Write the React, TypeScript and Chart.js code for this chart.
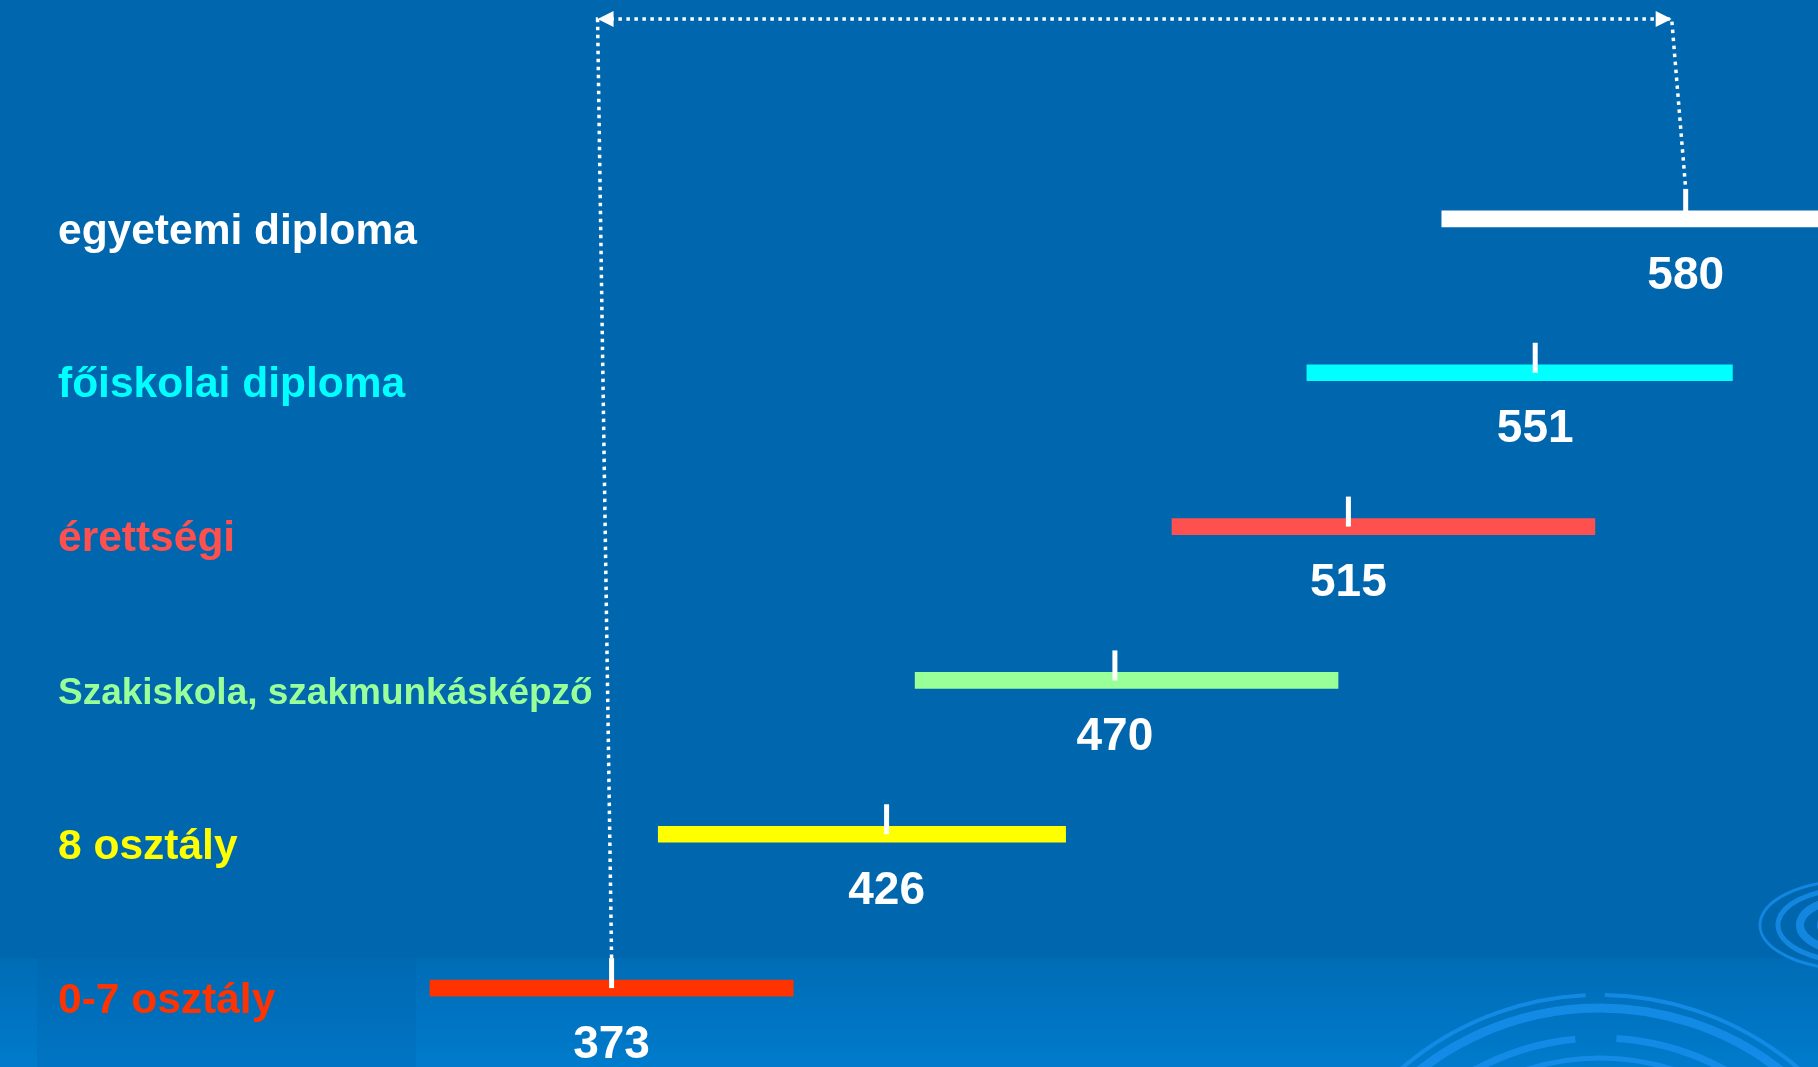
import React, { useEffect, useRef } from "react";
import { Chart, registerables } from "chart.js";

Chart.register(...registerables);

// ---- data ----
const categories = [
  "egyetemi diploma",
  "főiskolai diploma",
  "érettségi",
  "Szakiskola, szakmunkásképző",
  "8 osztály",
  "0-7 osztály",
];
const meanScores = [580, 551, 515, 470, 426, 373];
const rangeLow = [533, 507, 481, 431.5, 382, 338];
const rangeHigh = [612, 589, 562.5, 513, 460.5, 408];
const barColors = ["#FFFFFF", "#00FFFF", "#FF5050", "#99FF99", "#FFFF00", "#FF3300"];
const labelColors = ["#FFFFFF", "#00FFFF", "#FF5050", "#99FF99", "#FFFF00", "#FF3300"];

const FONT = '"Liberation Sans", Arial, Helvetica, sans-serif';
const AXIS_WIDTH = 560;
const LABEL_LEFT = 58;

const bgPlugin = {
  id: "bgPlugin",
  beforeDraw(chart: any) {
    const { ctx, width, height } = chart;
    ctx.save();
    ctx.fillStyle = "#0067AF";
    ctx.fillRect(0, 0, width, height);
    const g = ctx.createLinearGradient(0, 958, 0, height);
    g.addColorStop(0, "#006CB6");
    g.addColorStop(1, "#007BCB");
    ctx.fillStyle = g;
    ctx.fillRect(0, 958, width, height - 958);
    const g2 = ctx.createLinearGradient(0, 958, 0, height);
    g2.addColorStop(0, "#0069B2");
    g2.addColorStop(1, "#0074C3");
    ctx.fillStyle = g2;
    ctx.fillRect(37, 958, 379, height - 958);

    // ripples (decoration)
    ctx.strokeStyle = "rgba(25,145,240,0.75)";
    ctx.lineCap = "butt";
    const cx = 1600, cy = 1300;
    const arcs: [number, number, number, number][] = [
      [305, 4, 1.1 * Math.PI, 1.485 * Math.PI],
      [305, 4, 1.505 * Math.PI, 1.9 * Math.PI],
      [292, 9, 1.1 * Math.PI, 1.9 * Math.PI],
      [262, 7, 1.2 * Math.PI, 1.47 * Math.PI],
      [262, 7, 1.52 * Math.PI, 1.8 * Math.PI],
      [242, 5, 1.25 * Math.PI, 1.75 * Math.PI],
    ];
    arcs.forEach(([r, w, a0, a1]) => {
      ctx.lineWidth = w;
      ctx.beginPath();
      ctx.arc(cx, cy, r, a0, a1);
      ctx.stroke();
    });
    const sx = 1850, sy = 925;
    const ell: [number, number, number][] = [
      [90, 44, 3],
      [72, 36, 5],
      [50, 26, 8],
      [30, 16, 6],
    ];
    ell.forEach(([rx, ry, w]) => {
      ctx.lineWidth = w;
      ctx.beginPath();
      ctx.ellipse(sx, sy, rx, ry, 0, 0.55 * Math.PI, 1.45 * Math.PI);
      ctx.stroke();
    });
    ctx.restore();
  },
};

const overlayPlugin = {
  id: "overlayPlugin",
  afterDatasetsDraw(chart: any) {
    const { ctx } = chart;
    const xScale = chart.scales.x;
    const bars = chart.getDatasetMeta(0).data;
    ctx.save();
    // mean ticks and value labels
    meanScores.forEach((m, i) => {
      const px = xScale.getPixelForValue(m);
      const py = bars[i].y;
      ctx.fillStyle = "#FFFFFF";
      ctx.fillRect(px - 2.5, py - 30, 5, 30);
      ctx.font = `bold 46px ${FONT}`;
      ctx.textAlign = "center";
      ctx.textBaseline = "middle";
      ctx.fillText(String(m), px, py + 57);
    });

    // dotted double arrow joining the lowest and highest mean
    const iLow = meanScores.length - 1;
    const xl = xScale.getPixelForValue(meanScores[iLow]);
    const yl = bars[iLow].y - 30;
    const xr = xScale.getPixelForValue(meanScores[0]);
    const yr = bars[0].y - 30;
    const topY = 19;
    const slant = 14;
    ctx.strokeStyle = "#FFFFFF";
    ctx.lineWidth = 3.5;
    ctx.setLineDash([3.5, 4.5]);
    ctx.beginPath();
    ctx.moveTo(xl, yl);
    ctx.lineTo(xl - slant, topY);
    ctx.lineTo(xr - slant, topY);
    ctx.lineTo(xr, yr);
    ctx.stroke();
    ctx.setLineDash([]);
    ctx.fillStyle = "#FFFFFF";
    ctx.beginPath();
    ctx.moveTo(xl - slant, topY);
    ctx.lineTo(xl - slant + 16, topY - 8);
    ctx.lineTo(xl - slant + 16, topY + 8);
    ctx.closePath();
    ctx.fill();
    ctx.beginPath();
    ctx.moveTo(xr - slant, topY);
    ctx.lineTo(xr - slant - 16, topY - 8);
    ctx.lineTo(xr - slant - 16, topY + 8);
    ctx.closePath();
    ctx.fill();
    ctx.restore();
  },
};

export default function App() {
  const canvasRef = useRef<HTMLCanvasElement | null>(null);

  useEffect(() => {
    if (!canvasRef.current) return;
    const chart = new Chart(canvasRef.current, {
      type: "bar",
      data: {
        labels: categories,
        datasets: [
          {
            data: rangeLow.map((lo, i) => [lo, rangeHigh[i]]) as any,
            backgroundColor: barColors,
            borderWidth: 0,
            barThickness: 16,
            clip: false as any,
          },
        ],
      },
      options: {
        indexAxis: "y",
        animation: false,
        responsive: true,
        maintainAspectRatio: false,
        layout: { padding: { top: 142, bottom: 2, left: 0, right: 0 } },
        plugins: {
          legend: { display: false },
          tooltip: { enabled: false },
        },
        scales: {
          x: {
            type: "linear",
            min: 363.06,
            max: 605.5,
            display: false,
          },
          y: {
            type: "category",
            position: "left",
            grid: { display: false, drawTicks: false },
            border: { display: false },
            ticks: {
              color: labelColors,
              mirror: true,
              crossAlign: "near",
              padding: LABEL_LEFT - AXIS_WIDTH,
              labelOffset: 13,
              font: (c: any) => ({
                family: FONT,
                weight: "bold",
                size: c.index === 3 ? 37 : 42.5,
              }),
            },
            afterFit: (scale: any) => {
              scale.width = AXIS_WIDTH;
              scale.paddingTop = 0;
              scale.paddingBottom = 0;
            },
          },
        },
      },
      plugins: [bgPlugin, overlayPlugin],
    });
    return () => chart.destroy();
  }, []);

  return (
    <div
      style={{
        position: "fixed",
        left: 0,
        top: 0,
        width: "100vw",
        height: "100vh",
        background: "#0067AF",
      }}
    >
      <canvas ref={canvasRef} />
    </div>
  );
}
